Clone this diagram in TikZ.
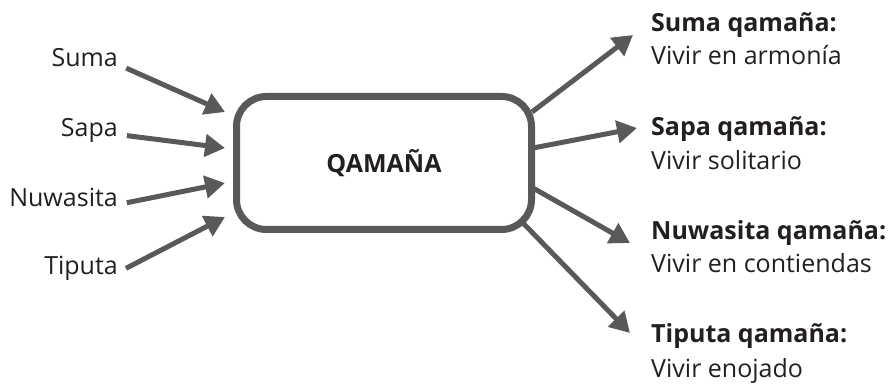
\documentclass[tikz,border=0pt]{standalone}
\usepackage{fontspec}
\setmainfont{Open Sans}
\usetikzlibrary{arrows.meta}
\definecolor{slate}{RGB}{88, 89, 91}
\definecolor{ink}{RGB}{35, 31, 32}

\begin{document}
\begin{tikzpicture}[x=1pt, y=1pt,
    caja/.style    = {draw=slate, line width=7pt, rounded corners=30pt, minimum width=295pt, minimum height=133pt,
                      text=ink, font=\fontsize{25}{30}\selectfont\bfseries},
    raiz/.style    = {anchor=base east, inner sep=0pt, text height=0.75em, text depth=0.25em, text=ink, font=\fontsize{25}{30}\selectfont},
    titulo/.style  = {anchor=base west, inner sep=0pt, text=ink, font=\fontsize{25}{30}\selectfont\bfseries},
    sentido/.style = {anchor=base west, inner sep=0pt, text=ink, font=\fontsize{25}{30}\selectfont},
    flecha/.style  = {draw=slate, line width=5pt, -{Triangle[length=20pt, width=22pt]}}]
    \useasboundingbox (0,0) rectangle (890,385);

    \node[caja] (qamana) at (384,222) {QAMAÑA};

    % origenes
    \node[raiz] (suma)   at (118,318) {Suma};
    \node[raiz] (sapa)   at (118,248) {Sapa};
    \node[raiz] (nuwa)   at (118,178) {Nuwasita};
    \node[raiz] (tiputa) at (118,110) {Tiputa};

    \draw[flecha, shorten <=9pt] (suma.east)   -- ([shift={(-8,51)}]qamana.west);
    \draw[flecha, shorten <=9pt] (sapa.east)   -- ([shift={(-8,15)}]qamana.west);
    \draw[flecha, shorten <=9pt] (nuwa.east)   -- ([shift={(-8,-20)}]qamana.west);
    \draw[flecha, shorten <=9pt] (tiputa.east) -- ([shift={(-8,-54)}]qamana.west);

    % formas de vivir
    \node[titulo]  (sumaq)   at (651,353) {Suma qamaña:};
    \node[sentido] (sumav)   at (651,320) {Vivir en armonía};
    \node[titulo]  (sapaq)   at (651,249) {Sapa qamaña:};
    \node[sentido] (sapav)   at (651,215) {Vivir solitario};
    \node[titulo]  (nuwaq)   at (651,145) {Nuwasita qamaña:};
    \node[sentido] (nuwav)   at (651,112) {Vivir en contiendas};
    \node[titulo]  (tiputaq) at (651,42)  {Tiputa qamaña:};
    \node[sentido] (tiputav) at (651,8)   {Vivir enojado};

    \draw[flecha] ([shift={(-3,51)}]qamana.east)   -- ([shift={(-18,-3)}]sumaq.base west);
    \draw[flecha] ([shift={(-2,15)}]qamana.east)   -- ([shift={(-14,8)}]sapaq.base west);
    \draw[flecha] ([shift={(-2,-25)}]qamana.east)  -- ([shift={(-21,-3)}]nuwaq.base west);
    \draw[flecha] ([shift={(-12,-60)}]qamana.east) -- ([shift={(-21,10)}]tiputaq.base west);
\end{tikzpicture}
\end{document}
